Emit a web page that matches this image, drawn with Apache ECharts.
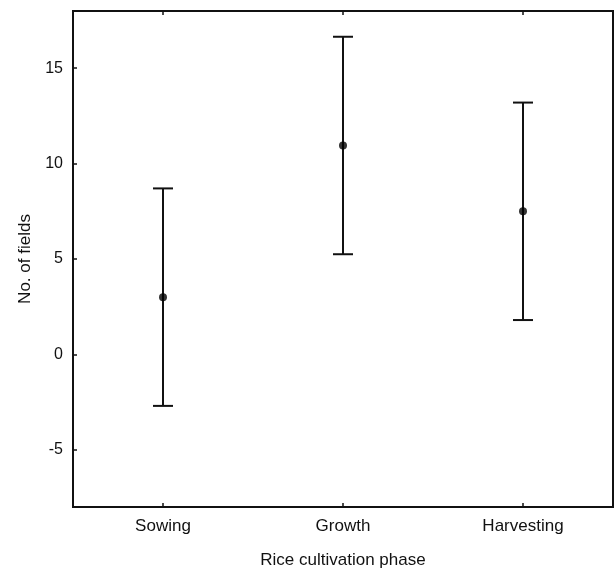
<!DOCTYPE html>
<html><head><meta charset="utf-8">
<script src="https://cdn.jsdelivr.net/npm/echarts@6/dist/echarts.min.js"></script>
<style>html,body{margin:0;padding:0;background:#fff}#c{width:616px;height:569px}</style>
</head><body><div id="c"></div>
<script>
const categories = ['Sowing', 'Growth', 'Harvesting'];
const means = [3.0, 10.95, 7.5];
const lower = [-2.7, 5.25, 1.8];
const upper = [8.7, 16.65, 13.2];
const yTicks = [-5, 0, 5, 10, 15];

const chart = echarts.init(document.getElementById('c'));
const font = '"Liberation Sans", Arial, sans-serif';
const tickStyle = {color: '#111', width: 1.5};
chart.setOption({
  animation: false,
  grid: {left: 73, right: 3, top: 11, bottom: 62, outerBoundsMode: 'none', containLabel: false,
    show: true, borderColor: '#111', borderWidth: 2, backgroundColor: '#fff'},
  xAxis: [{
    type: 'category', data: categories, position: 'bottom',
    axisLine: {onZero: false, lineStyle: {color: '#111', width: 2}},
    axisTick: {show: true, interval: 0, inside: true, alignWithLabel: true, length: 4, lineStyle: tickStyle},
    axisLabel: {color: '#111', fontSize: 17, fontFamily: font, margin: 11},
    name: 'Rice cultivation phase', nameLocation: 'middle', nameGap: 45,
    nameTextStyle: {color: '#111', fontSize: 17, fontFamily: font}
  }, {
    type: 'category', data: categories, position: 'top',
    axisLine: {onZero: false, lineStyle: {color: '#111', width: 2}},
    axisTick: {show: true, interval: 0, inside: true, alignWithLabel: true, length: 4, lineStyle: tickStyle},
    axisLabel: {show: false}
  }],
  yAxis: {
    type: 'value', min: -8, max: 18,
    axisLine: {show: true, onZero: false, lineStyle: {color: '#111', width: 2}},
    axisTick: {show: true, inside: true, length: 4, lineStyle: tickStyle, customValues: yTicks},
    splitLine: {show: false},
    axisLabel: {color: '#111', fontSize: 16, fontFamily: font, margin: 10, customValues: yTicks},
    name: 'No. of fields', nameLocation: 'middle', nameGap: 38,
    nameTextStyle: {color: '#111', fontSize: 17, fontFamily: font}
  },
  series: [{
    type: 'custom',
    data: categories.map((c, i) => [i, lower[i], upper[i]]),
    renderItem: function (params, api) {
      const x = api.value(0);
      const lo = api.coord([x, api.value(1)]);
      const hi = api.coord([x, api.value(2)]);
      const hw = 10;
      const st = {stroke: '#111', lineWidth: 2};
      return {type: 'group', children: [
        {type: 'line', shape: {x1: lo[0], y1: lo[1], x2: hi[0], y2: hi[1]}, style: st},
        {type: 'line', shape: {x1: lo[0]-hw, y1: lo[1], x2: lo[0]+hw, y2: lo[1]}, style: st},
        {type: 'line', shape: {x1: hi[0]-hw, y1: hi[1], x2: hi[0]+hw, y2: hi[1]}, style: st}
      ]};
    },
    z: 2
  }, {
    type: 'scatter',
    data: means.map((m, i) => [i, m]),
    symbolSize: 8,
    itemStyle: {color: '#000'},
    z: 3
  }]
});
</script></body></html>
